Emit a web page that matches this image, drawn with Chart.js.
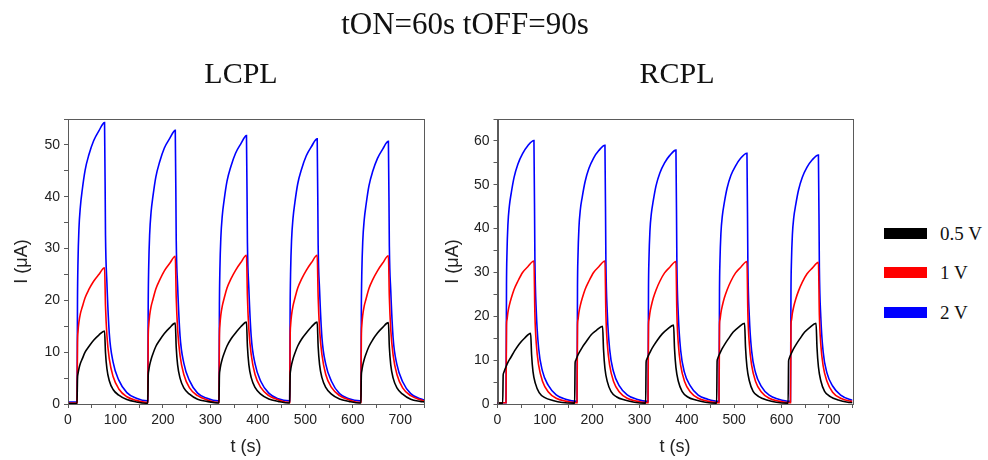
<!DOCTYPE html>
<html>
<head>
<meta charset="utf-8">
<script src="https://cdn.jsdelivr.net/npm/chart.js@4.4.1/dist/chart.umd.min.js"></script>
<style>
  html, body { margin:0; padding:0; background:#fff; }
  #wrap { position:relative; width:988px; height:460px; overflow:hidden; }
  canvas { position:absolute; top:0; }
  .ttl { position:absolute; font-family:"Liberation Serif", serif; color:#111; white-space:nowrap; transform:translateX(-50%); line-height:1; }
  .leg { position:absolute; font-family:"Liberation Serif", serif; font-size:19px; color:#111; white-space:nowrap; line-height:1; }
  .box { position:absolute; width:43px; height:11px; }
</style>
</head>
<body>
<div id="wrap">
  <canvas id="cL" width="440" height="460" style="left:0px"></canvas>
  <canvas id="cR" width="440" height="460" style="left:430px"></canvas>
  <div class="ttl" style="left:465px; top:8px; font-size:31px;">tON=60s tOFF=90s</div>
  <div class="ttl" style="left:241px; top:58px; font-size:30px;">LCPL</div>
  <div class="ttl" style="left:677px; top:58px; font-size:30px;">RCPL</div>
  <div class="box" style="left:884px; top:228px; background:#000;"></div>
  <div class="box" style="left:884px; top:267px; background:#ff0000;"></div>
  <div class="box" style="left:884px; top:307px; background:#0000ff;"></div>
  <div class="leg" style="left:940px; top:224px;">0.5 V</div>
  <div class="leg" style="left:940px; top:263px;">1 V</div>
  <div class="leg" style="left:940px; top:303px;">2 V</div>
</div>
<script>
// ---------------- DATA ----------------
const seriesLabels = ['0.5 V', '1 V', '2 V'];
const seriesColors = ['#000000', '#ff0000', '#0000ff'];

// LCPL: shared time samples (s)
const leftTime = [0,
  19,20,21,23,26,30,36,44,54,65,77,79,82,87,95,107,124,144,167,
  168,169,170,172,175,179,185,193,203,214,226,228,231,236,244,256,273,293,316,
  318,319,320,322,325,329,335,343,353,364,376,378,381,386,394,406,423,443,466,
  467,468,469,471,474,478,484,492,502,513,525,527,530,535,543,555,572,592,615,
  617,618,619,621,624,628,634,642,652,663,675,677,680,685,693,705,722,742,750];
const left05V = [0.1,
  0.1,4.9,5.8,6.8,7.8,8.7,10.0,11.1,12.3,13.3,14.1,9.9,6.8,4.5,2.8,1.7,0.85,0.4,0.15,
  0.15,5.5,6.4,7.5,8.6,9.7,11.1,12.3,13.6,14.7,15.6,10.9,7.5,5.0,3.1,1.9,0.9,0.5,0.2,
  0.2,5.5,6.5,7.6,8.7,9.8,11.2,12.5,13.7,14.9,15.8,11.1,7.6,5.1,3.2,1.9,0.95,0.5,0.2,
  0.2,5.5,6.5,7.6,8.7,9.8,11.2,12.5,13.7,14.9,15.8,11.1,7.6,5.1,3.2,1.9,0.95,0.5,0.2,
  0.2,5.5,6.4,7.5,8.6,9.7,11.1,12.4,13.7,14.8,15.7,11.0,7.5,5.0,3.1,1.9,0.9,0.5,0.4];
const left1V = [0.2,
  0.2,11.8,13.9,15.8,17.4,18.7,20.5,22.1,23.7,25.0,26.3,18.9,13.2,8.7,5.3,2.9,1.4,0.7,0.3,
  0.3,12.8,15.1,17.1,18.8,20.2,22.2,23.9,25.7,27.1,28.5,20.5,14.3,9.4,5.7,3.1,1.6,0.8,0.3,
  0.3,12.9,15.2,17.2,18.9,20.4,22.4,24.1,25.8,27.3,28.7,20.7,14.4,9.5,5.7,3.2,1.6,0.8,0.3,
  0.3,12.9,15.2,17.2,18.9,20.4,22.4,24.1,25.8,27.3,28.7,20.7,14.4,9.5,5.7,3.2,1.6,0.8,0.3,
  0.3,12.9,15.2,17.2,18.9,20.3,22.3,24.0,25.7,27.2,28.6,20.6,14.3,9.4,5.7,3.1,1.6,0.8,0.6];
const left2V = [0.4,
  0.4,20.1,27.2,33.7,38.0,41.3,45.1,48.1,50.8,52.7,54.3,32.6,23.3,13.6,8.1,4.6,2.2,1.1,0.6,
  0.6,19.5,26.4,32.7,37.0,40.1,43.8,46.7,49.4,51.2,52.8,31.7,22.7,13.2,7.9,4.5,2.1,1.1,0.6,
  0.6,19.2,25.9,32.1,36.3,39.4,43.0,45.8,48.4,50.2,51.8,31.1,22.3,13.0,7.8,4.4,2.1,1.0,0.6,
  0.6,18.9,25.6,31.7,35.8,38.9,42.5,45.3,47.9,49.7,51.2,30.7,22.0,12.8,7.7,4.4,2.0,1.0,0.6,
  0.6,18.8,25.4,31.4,35.5,38.5,42.1,44.9,47.4,49.2,50.7,30.4,21.8,12.7,7.6,4.3,2.0,1.0,0.8];

// RCPL: time samples for 1 V and 2 V (s)
const rightTime = [0,
  18,19,20,22,25,29,35,43,53,64,77,79,82,87,95,107,124,144,167,
  168,169,170,172,175,179,185,193,203,214,227,229,232,237,245,257,274,294,317,
  318,319,320,322,325,329,335,343,353,364,377,379,382,387,395,407,424,444,467,
  468,469,470,472,475,479,485,493,503,514,527,529,532,537,545,557,574,594,618,
  619,620,621,623,626,630,636,644,654,665,678,680,683,688,696,708,725,745,750];
const right1V = [0.3,
  0.3,17.9,19.2,20.9,22.5,24.1,26.1,28.0,30.0,31.3,32.6,20.5,13.7,8.8,5.2,2.8,1.3,0.65,0.3,
  0.3,17.9,19.2,20.9,22.5,24.1,26.1,28.0,30.0,31.3,32.6,20.5,13.7,8.8,5.2,2.8,1.3,0.65,0.3,
  0.3,17.9,19.2,20.8,22.4,24.1,26.0,28.0,29.9,31.2,32.5,20.5,13.7,8.8,5.2,2.8,1.3,0.65,0.3,
  0.3,17.9,19.2,20.8,22.4,24.1,26.0,28.0,29.9,31.2,32.5,20.5,13.7,8.8,5.2,2.8,1.3,0.65,0.3,
  0.3,17.8,19.1,20.7,22.3,23.9,25.8,27.8,29.7,31.0,32.3,20.3,13.6,8.7,5.2,2.7,1.3,0.65,0.6];
const right2V = [0.3,
  0.3,27.0,34.3,40.9,45.1,48.1,51.7,54.7,57.1,58.9,60.1,33.1,21.0,12.6,7.5,4.3,2.1,1.1,0.6,
  0.6,26.6,33.6,40.1,44.3,47.2,50.7,53.7,56.1,57.8,59.0,32.5,20.7,12.4,7.4,4.2,2.1,1.1,0.6,
  0.6,26.1,33.0,39.4,43.4,46.3,49.8,52.7,55.0,56.7,57.9,31.8,20.3,12.2,7.2,4.2,2.0,1.1,0.6,
  0.6,25.7,32.6,38.9,42.9,45.8,49.2,52.1,54.3,56.1,57.2,31.5,20.0,12.0,7.2,4.1,2.0,1.1,0.6,
  0.6,25.6,32.4,38.6,42.6,45.4,48.8,51.7,54.0,55.7,56.8,31.2,19.9,11.9,7.1,4.1,2.0,1.0,0.9];
// RCPL: time samples for 0.5 V (s) - switches slightly earlier
const rightTime05 = [0,
  11,12,13,15,18,22,28,36,46,57,70,72,75,80,88,100,117,137,162,
  163,164,165,167,170,174,180,188,198,209,222,224,227,232,240,252,269,289,312,
  313,314,315,317,320,324,330,338,348,359,372,374,377,382,390,402,419,439,462,
  463,464,465,467,470,474,480,488,498,509,522,524,527,532,540,552,569,589,613,
  614,615,616,618,621,625,631,639,649,660,673,675,678,683,691,703,720,740,750];
const right05V = [0.2,
  0.2,6.6,7.1,7.7,8.5,9.5,10.6,12.1,13.7,15.0,16.1,11.3,7.4,4.7,2.6,1.45,0.8,0.35,0.2,
  0.2,9.4,9.9,10.4,11.2,12.0,13.1,14.3,15.8,16.8,17.7,12.4,8.1,5.1,2.8,1.6,0.9,0.4,0.2,
  0.2,9.5,10.1,10.6,11.3,12.2,13.3,14.6,16.0,17.1,18.0,12.6,8.3,5.2,2.9,1.6,0.9,0.4,0.2,
  0.2,9.8,10.3,10.9,11.6,12.5,13.6,14.9,16.4,17.5,18.4,12.9,8.5,5.3,2.9,1.7,0.9,0.4,0.2,
  0.2,9.8,10.3,10.9,11.6,12.5,13.6,14.9,16.4,17.5,18.4,12.9,8.5,5.3,2.9,1.7,0.9,0.4,0.3];

// Axis settings
const xMax = 750;
const leftYMax = 55;
const rightYMax = 65;
const xLabelStep = 100;
const yLabelStep = 10;

// ---------------- CHARTS ----------------
function pairs(t, v) { return t.map((x, i) => ({x: x, y: v[i]})); }

const framePlugin = {
  id: 'frame',
  afterDraw(chart) {
    const a = chart.chartArea, ctx = chart.ctx;
    ctx.save();
    ctx.strokeStyle = '#5a5a5a';
    ctx.lineWidth = 1;
    ctx.strokeRect(Math.round(a.left) + 0.5, Math.round(a.top) + 0.5,
                   Math.round(a.right - a.left), Math.round(a.bottom - a.top));
    ctx.restore();
  }
};

function makeChart(id, datasets, yMax, yWidth, padRight, yTitlePad) {
  const tickFont = {family: '"Liberation Sans", Arial, sans-serif', size: 14};
  const titleFont = {family: '"Liberation Sans", Arial, sans-serif', size: 18};
  return new Chart(document.getElementById(id), {
    type: 'line',
    data: { datasets: datasets.map((d, i) => ({
      label: d.label, data: d.data, borderColor: d.color, backgroundColor: d.color,
      borderWidth: 1.6, pointRadius: 0, fill: false, cubicInterpolationMode: 'monotone'
    })) },
    options: {
      responsive: false, animation: false, devicePixelRatio: 1,
      layout: { padding: { left: 0, right: padRight, top: 119, bottom: 0 } },
      plugins: { legend: { display: false }, tooltip: { enabled: false }, title: { display: false } },
      scales: {
        x: {
          type: 'linear', min: 0, max: xMax,
          afterFit(s) { s.height = 56; },
          border: { display: true, color: '#5a5a5a', width: 1 },
          grid: { drawOnChartArea: false, drawTicks: true, tickLength: 4, color: '#5a5a5a' },
          ticks: { stepSize: 50, autoSkip: false, maxRotation: 0, color: '#222', font: tickFont, padding: 4,
                   callback: (v) => (v % xLabelStep === 0 ? String(v) : '') },
          title: { display: true, text: 't (s)', color: '#222', font: titleFont, padding: { top: 0, bottom: 2 } }
        },
        y: {
          type: 'linear', min: 0, max: yMax,
          afterFit(s) { s.width = yWidth; },
          border: { display: true, color: '#5a5a5a', width: 1 },
          grid: { drawOnChartArea: false, drawTicks: true, tickLength: 4, color: '#5a5a5a' },
          ticks: { stepSize: 5, autoSkip: false, color: '#222', font: tickFont, padding: 4,
                   callback: (v) => (v % yLabelStep === 0 ? String(v) : '') },
          title: { display: true, text: 'I (\u03bcA)', color: '#222', font: titleFont, padding: { top: yTitlePad, bottom: 0 } }
        }
      }
    },
    plugins: [framePlugin]
  });
}

makeChart('cL', [
  { label: seriesLabels[0], color: seriesColors[0], data: pairs(leftTime, left05V) },
  { label: seriesLabels[1], color: seriesColors[1], data: pairs(leftTime, left1V) },
  { label: seriesLabels[2], color: seriesColors[2], data: pairs(leftTime, left2V) }
], leftYMax, 68, 16, 11);

makeChart('cR', [
  { label: seriesLabels[0], color: seriesColors[0], data: pairs(rightTime05, right05V) },
  { label: seriesLabels[1], color: seriesColors[1], data: pairs(rightTime, right1V) },
  { label: seriesLabels[2], color: seriesColors[2], data: pairs(rightTime, right2V) }
], rightYMax, 67.5, 17.5, 12);
</script>
</body>
</html>
